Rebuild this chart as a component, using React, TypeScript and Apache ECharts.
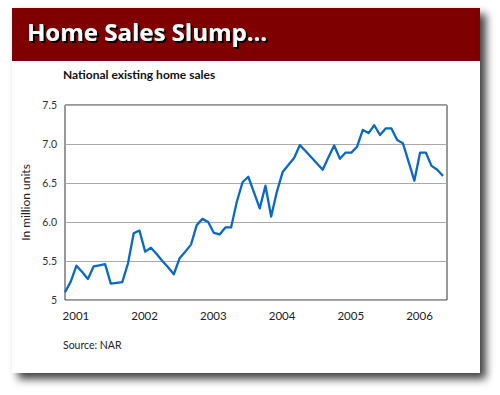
import React, { useEffect, useRef } from 'react';
import * as echarts from 'echarts';

const titleText = 'Home Sales Slump...';
const subtitleText = 'National existing home sales';
const sourceText = 'Source: NAR';
const yAxisName = 'In million units';
const yearLabels = ['2001', '2002', '2003', '2004', '2005', '2006'];
const yTickLabels = ['5', '5.5', '6.0', '6.5', '7.0', '7.5'];
// monthly, Jan 2001 .. Jul 2006, million units
const sales = [
  5.10, 5.235, 5.44, 5.36, 5.27, 5.43, 5.445, 5.46, 5.21, 5.22, 5.23, 5.47,
  5.855, 5.89, 5.62, 5.67, 5.59, 5.50, 5.42, 5.33, 5.535, 5.62, 5.71, 5.96,
  6.04, 6.00, 5.86, 5.84, 5.93, 5.93, 6.26, 6.51, 6.58, 6.38, 6.175, 6.465,
  6.07, 6.39, 6.64, 6.73, 6.82, 6.985, 6.91, 6.83, 6.75, 6.67, 6.83, 6.98,
  6.81, 6.89, 6.89, 6.965, 7.18, 7.14, 7.24, 7.115, 7.20, 7.20, 7.05, 7.01,
  6.77, 6.53, 6.89, 6.89, 6.72, 6.67, 6.59,
];

export default function App() {
  const ref = useRef<HTMLDivElement>(null);
  useEffect(() => {
    document.body.style.margin = '0';
    const chart = echarts.init(ref.current!, null, { renderer: 'svg' });
    const data = sales.map((v, i) => [i, v]);
    chart.setOption({
      animation: false,
      backgroundColor: '#ffffff',
      grid: {
        left: 65, top: 105, width: 382, height: 195,
        show: true, borderColor: '#333', borderWidth: 1, backgroundColor: 'transparent',
      },
      xAxis: {
        type: 'value', min: 0, max: 66.7,
        axisLine: { show: false }, axisTick: { show: false }, splitLine: { show: false },
        axisLabel: {
          customValues: yearLabels.map((_, k) => k * 12 + 1.9),
          formatter: (v: number) => yearLabels[Math.round((v - 1.9) / 12)] ?? '',
          color: '#222', fontSize: 11.5, fontFamily: 'Lato', margin: 9,
        },
      },
      yAxis: {
        type: 'value', min: 5, max: 7.5, interval: 0.5,
        name: yAxisName, nameLocation: 'middle', nameGap: 26, nameRotate: 90,
        nameTextStyle: { color: '#222', fontSize: 12, fontFamily: 'Lato' },
        axisLine: { show: false }, axisTick: { show: false },
        splitLine: { lineStyle: { color: '#aaa', width: 1 } },
        axisLabel: {
          formatter: (v: number) => yTickLabels[Math.round((v - 5) / 0.5)] ?? '',
          color: '#333', fontSize: 10.5, fontFamily: 'Lato', margin: 8,
        },
      },
      series: [{
        type: 'line', data, symbol: 'none', showSymbol: false, z: 3,
        lineStyle: { color: '#0a68c8', width: 2.3, join: 'round' },
      }],
      graphic: [
        {
          type: 'rect', z: -10, silent: true,
          shape: { x: 12, y: 8, width: 468, height: 365 },
          style: { fill: '#fff', shadowBlur: 9, shadowColor: 'rgba(0,0,0,0.75)', shadowOffsetX: 6, shadowOffsetY: 6 },
        },
        {
          type: 'rect', z: -5, silent: true,
          shape: { x: 12, y: 8, width: 468, height: 53 },
          style: { fill: '#7f0000' },
        },
        {
          type: 'text', z: 10, x: 27, y: 43,
          style: {
            text: titleText, fill: '#ffffff', font: 'bold 24px "Open Sans"', verticalAlign: 'bottom',
            textShadowColor: '#000000', textShadowBlur: 0.6, textShadowOffsetX: 2, textShadowOffsetY: 2,
            shadowColor: '#000000', shadowBlur: 0.6, shadowOffsetX: 2, shadowOffsetY: 2,
          },
        },
        {
          type: 'text', z: 10, x: 63, y: 74,
          style: { text: subtitleText, fill: '#111', font: 'bold 12px Lato', verticalAlign: 'middle' },
        },
        {
          type: 'text', z: 10, x: 63, y: 345,
          style: { text: sourceText, fill: '#222', font: '10.5px Lato', verticalAlign: 'middle' },
        },
      ],
    });
    return () => chart.dispose();
  }, []);
  return <div ref={ref} style={{ width: 500, height: 395 }} />;
}
